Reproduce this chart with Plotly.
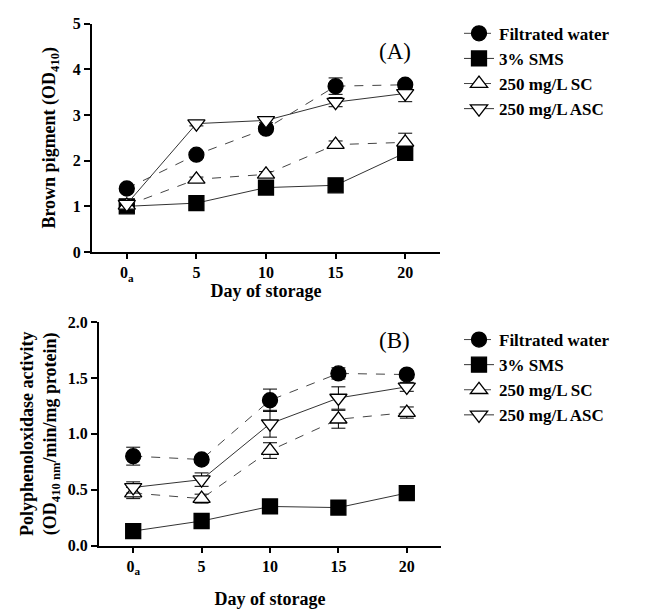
import plotly.graph_objects as go

# Storage days and tick labels
days = [0, 5, 10, 15, 20]
day_labels = ["0<sub>a</sub>", "5", "10", "15", "20"]

series_names = ["Filtrated water", "3% SMS", "250 mg/L SC", "250 mg/L ASC"]

# (A) Brown pigment, OD410
brown_water = [1.39, 2.13, 2.70, 3.63, 3.66]
brown_sms = [1.00, 1.07, 1.41, 1.46, 2.17]
brown_sc = [1.02, 1.59, 1.70, 2.35, 2.40]
brown_asc = [1.05, 2.81, 2.88, 3.28, 3.47]
brown_water_err = [0.04, 0.05, 0.08, 0.18, 0.08]
brown_sms_err = [0.03, 0.04, 0.05, 0.05, 0.08]
brown_sc_err = [0.03, 0.05, 0.06, 0.08, 0.20]
brown_asc_err = [0.03, 0.05, 0.05, 0.10, 0.18]

# (B) Polyphenoloxidase activity
ppo_water = [0.80, 0.77, 1.30, 1.54, 1.53]
ppo_sms = [0.13, 0.22, 0.35, 0.34, 0.47]
ppo_sc = [0.47, 0.42, 0.85, 1.13, 1.19]
ppo_asc = [0.52, 0.59, 1.09, 1.32, 1.42]
ppo_water_err = [0.08, 0.02, 0.10, 0.05, 0.03]
ppo_sms_err = [0.02, 0.02, 0.02, 0.02, 0.02]
ppo_sc_err = [0.05, 0.04, 0.07, 0.08, 0.05]
ppo_asc_err = [0.05, 0.06, 0.12, 0.10, 0.04]

W, H = 646, 610
FONT = "Liberation Serif"

styles = [
    dict(symbol="circle", fill="black", dash="dash", lc="#444"),
    dict(symbol="square", fill="black", dash="solid", lc="#333"),
    dict(symbol="triangle-up", fill="white", dash="dash", lc="#444"),
    dict(symbol="triangle-down", fill="white", dash="solid", lc="#333"),
]

fig = go.Figure()


def add_panel(values, errors, xa, ya, legend):
    for name, v, e, st in zip(series_names, values, errors, styles):
        fig.add_trace(go.Scatter(
            x=days, y=v, name=name, mode="lines+markers",
            xaxis=xa, yaxis=ya, legend=legend,
            line=dict(color=st["lc"], width=1, dash=st["dash"]),
            marker=dict(symbol=st["symbol"], size=15, color=st["fill"],
                        line=dict(color="black", width=1.3)),
            error_y=dict(type="data", array=e, visible=True, color="black", thickness=1, width=7),
        ))


add_panel([brown_water, brown_sms, brown_sc, brown_asc],
          [brown_water_err, brown_sms_err, brown_sc_err, brown_asc_err], "x", "y", "legend")
add_panel([ppo_water, ppo_sms, ppo_sc, ppo_asc],
          [ppo_water_err, ppo_sms_err, ppo_sc_err, ppo_asc_err], "x2", "y2", "legend2")

tick_font = dict(family=FONT, size=16, color="black", weight="bold")
title_font = dict(family=FONT, size=18, color="black", weight="bold")
legend_font = dict(family=FONT, size=17, color="black", weight="bold")

common_x = dict(range=[-2.5, 22.5], tickvals=days, ticktext=day_labels, showline=True,
                linecolor="black", linewidth=2, ticks="outside", ticklen=5, tickwidth=1.5,
                tickcolor="black", showgrid=False, zeroline=False, tickfont=tick_font,
                title_font=title_font)
common_y = dict(showline=True, linecolor="black", linewidth=2, ticks="outside", ticklen=6,
                tickwidth=1.5, tickcolor="black", showgrid=False, zeroline=False,
                tickfont=tick_font, title_font=title_font)


def px(a, b):
    return [a / W, b / W]


def py(top, bottom):
    return [1 - bottom / H, 1 - top / H]


fig.update_layout(
    width=W, height=H, margin=dict(l=0, r=0, t=0, b=0),
    plot_bgcolor="white", paper_bgcolor="white",
    xaxis=dict(common_x, domain=px(92, 440), anchor="y",
               title=dict(text="Day of storage", standoff=2)),
    yaxis=dict(common_y, domain=py(16, 251), anchor="x", range=[0, 5], dtick=1,
               tickformat="d", title=dict(text="Brown pigment (OD<sub>410</sub>)", standoff=12)),
    xaxis2=dict(common_x, domain=px(99, 441), anchor="y2",
                title=dict(text="Day of storage", standoff=16)),
    yaxis2=dict(common_y, domain=py(323, 553), anchor="x2", range=[0, 2.0], dtick=0.5,
                tickformat=".1f",
                title=dict(text="Polyphenoloxidase activity<br>(OD<sub>410 nm</sub>/min/mg protein)",
                           standoff=6)),
    legend=dict(x=459 / W, y=1 - 8 / H, xanchor="left", yanchor="top",
                font=legend_font, bgcolor="rgba(0,0,0,0)", tracegroupgap=0, itemwidth=30),
    legend2=dict(x=459 / W, y=1 - 323 / H, xanchor="left", yanchor="top",
                 font=legend_font, bgcolor="rgba(0,0,0,0)", tracegroupgap=0, itemwidth=30),
    annotations=[
        dict(text="(A)", x=395 / W, y=1 - 45 / H, xref="paper", yref="paper",
             xanchor="center", yanchor="middle", showarrow=False,
             font=dict(family=FONT, size=23, color="black")),
        dict(text="(B)", x=395 / W, y=1 - 342 / H, xref="paper", yref="paper",
             xanchor="center", yanchor="middle", showarrow=False,
             font=dict(family=FONT, size=23, color="black")),
    ],
)

fig.write_html("out.html")
